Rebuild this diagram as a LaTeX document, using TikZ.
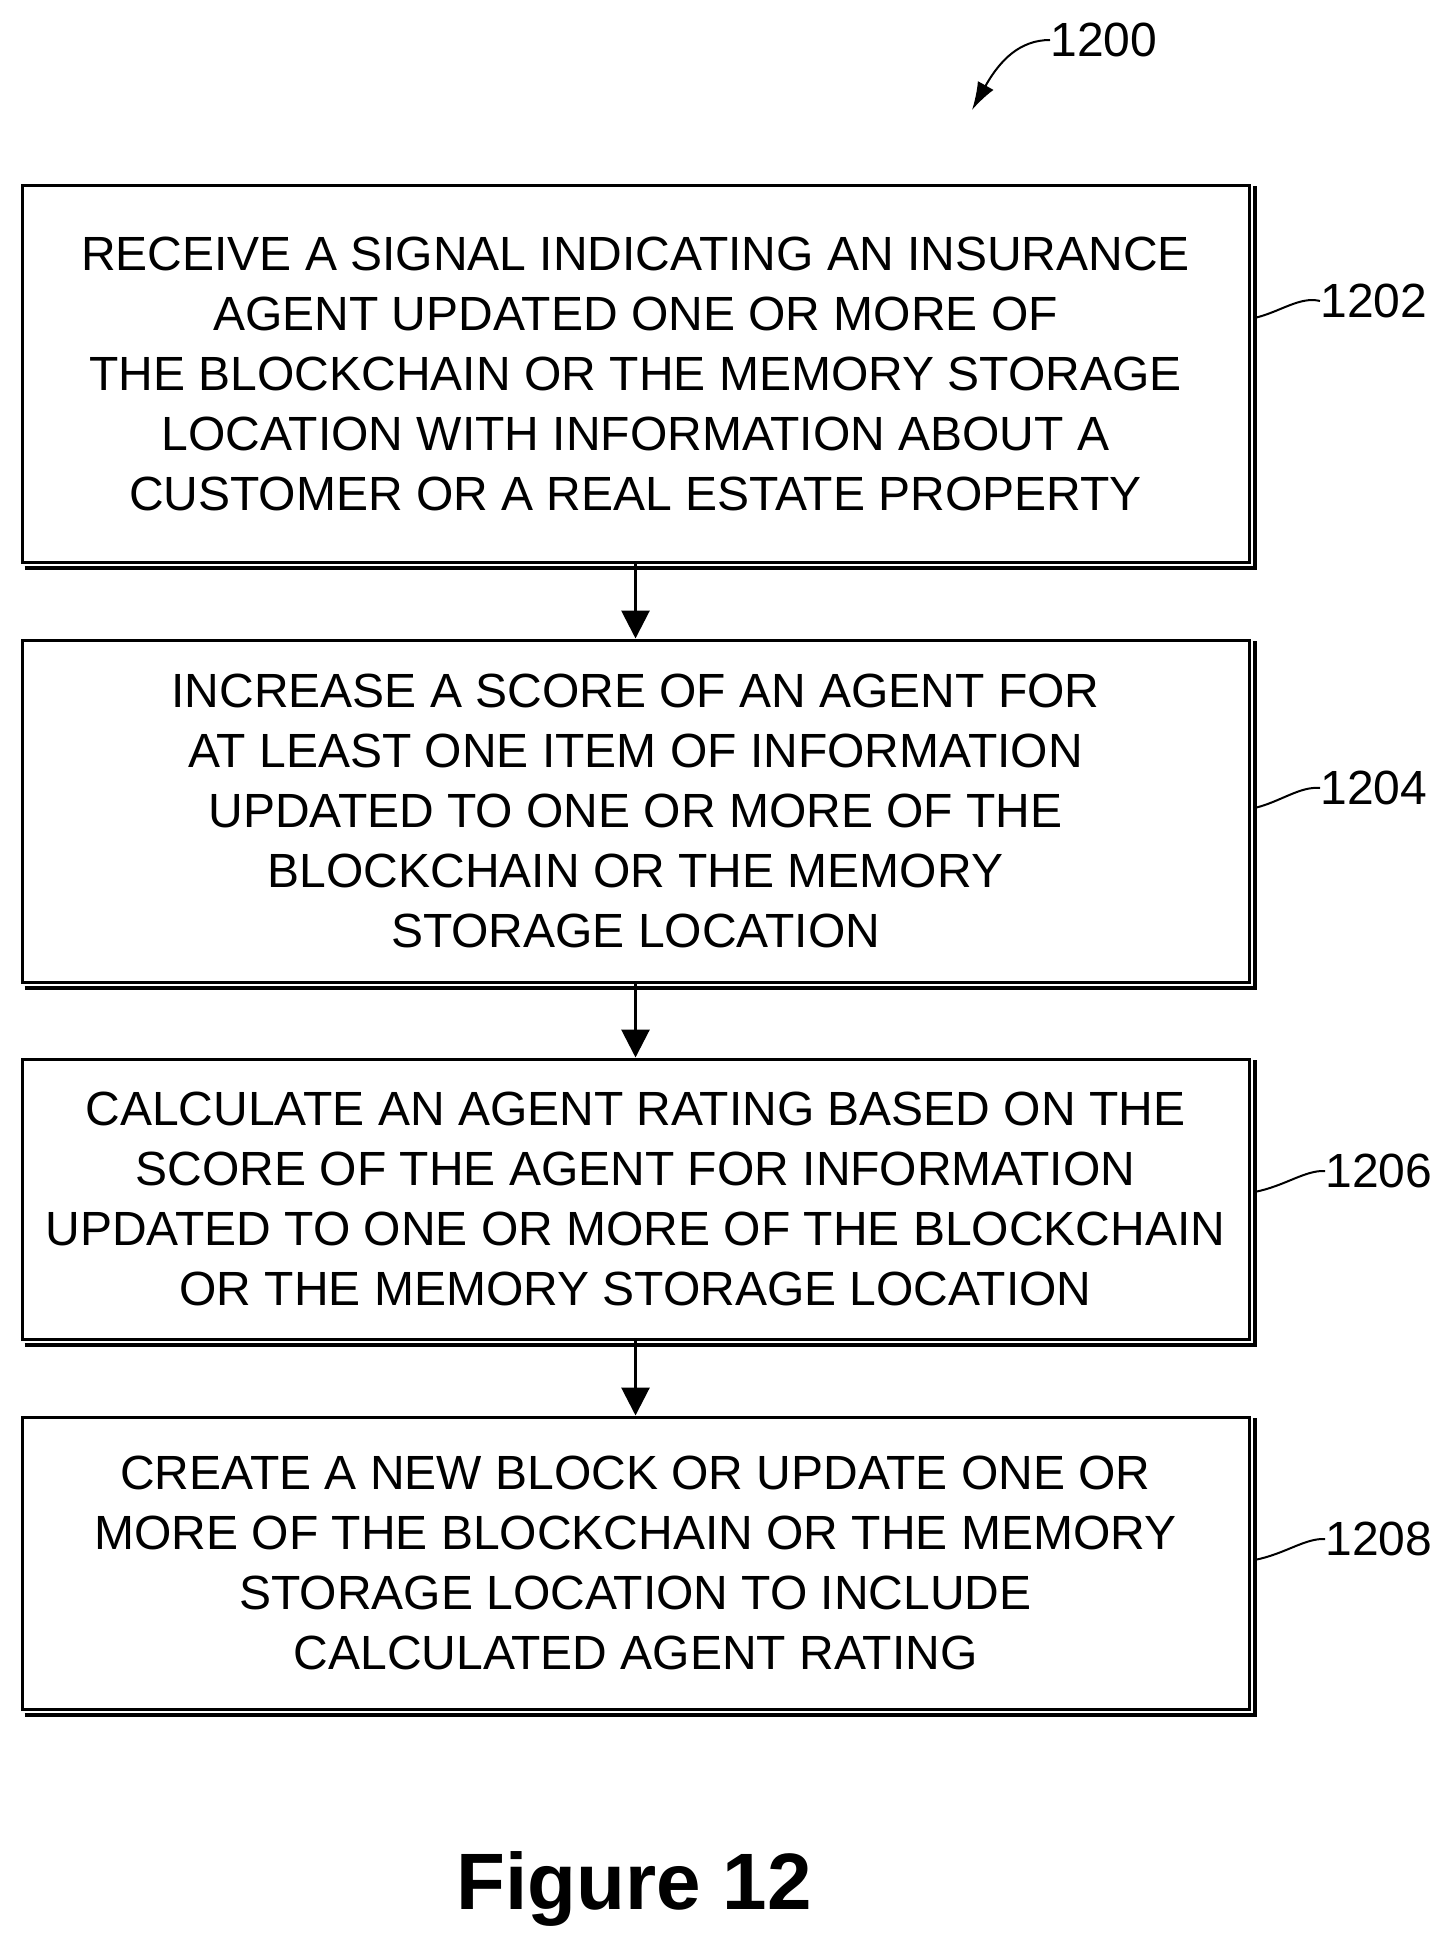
\documentclass[tikz,border=0pt]{standalone}
\usepackage{fontspec}
\setmainfont{Liberation Sans}
\usetikzlibrary{arrows.meta}
\begin{document}
\begin{tikzpicture}[x=0.5pt,y=-0.5pt,
  stepbox/.style={draw,line width=1.5pt,minimum width=613.5pt,align=center,font=\fontsize{24}{30}\selectfont,inner sep=0pt},
  conn/.style={line width=1.5pt,-{Triangle[length=14pt,width=14pt]}},
  lbl/.style={font=\fontsize{24}{28}\selectfont,anchor=west,inner sep=0pt},
  lead/.style={line width=1pt}]
\useasboundingbox (0,0) rectangle (1448,1946);
\node[stepbox,minimum height=188pt] (b1) at (635.5,374) {RECEIVE A SIGNAL INDICATING AN INSURANCE\\AGENT UPDATED ONE OR MORE OF\\THE BLOCKCHAIN OR THE MEMORY STORAGE\\LOCATION WITH INFORMATION ABOUT A\\CUSTOMER OR A REAL ESTATE PROPERTY};
\node[stepbox,minimum height=171pt] (b2) at (635.5,811) {INCREASE A SCORE OF AN AGENT FOR\\AT LEAST ONE ITEM OF INFORMATION\\UPDATED TO ONE OR MORE OF THE\\BLOCKCHAIN OR THE MEMORY\\STORAGE LOCATION};
\node[stepbox,minimum height=140pt] (b3) at (635.5,1199) {CALCULATE AN AGENT RATING BASED ON THE\\SCORE OF THE AGENT FOR INFORMATION\\UPDATED TO ONE OR MORE OF THE BLOCKCHAIN\\OR THE MEMORY STORAGE LOCATION};
\node[stepbox,minimum height=146pt] (b4) at (635.5,1563) {CREATE A NEW BLOCK OR UPDATE ONE OR\\MORE OF THE BLOCKCHAIN OR THE MEMORY\\STORAGE LOCATION TO INCLUDE\\CALCULATED AGENT RATING};
\foreach \b in {b1,b2,b3,b4}{
  \draw[line width=2pt] ([xshift=2pt,yshift=-2pt]\b.south west) -- ([xshift=2pt,yshift=-2pt]\b.south east) -- ([xshift=2pt,yshift=-1pt]\b.north east);
}
\draw[conn] (b1.south) -- (b2.north);
\draw[conn] (b2.south) -- (b3.north);
\draw[conn] (b3.south) -- (b4.north);
\node[lbl] (l1) at (1320,301) {1202};
\node[lbl] (l2) at (1320,788) {1204};
\node[lbl] (l3) at (1325,1171) {1206};
\node[lbl] (l4) at (1325,1539) {1208};
\draw[lead] ([xshift=2pt]b1.east |- 0,318) .. controls (1280,312) and (1300,296) .. (l1.west);
\draw[lead] ([xshift=2pt]b2.east |- 0,808) .. controls (1280,802) and (1300,786) .. (l2.west);
\draw[lead] ([xshift=2pt]b3.east |- 0,1192) .. controls (1285,1186) and (1305,1170) .. (l3.west);
\draw[lead] ([xshift=2pt]b4.east |- 0,1560) .. controls (1285,1554) and (1305,1538) .. (l4.west);
\node[lbl] (l0) at (1050,40) {1200};
\coordinate (t0) at (972,110);
\draw[line width=1pt,-{Latex[length=14pt,width=9pt]}] (l0.west) .. controls (1020,40) and (1000,60) .. (t0);
\node[font=\bfseries\fontsize{40}{48}\selectfont] (fig) at (634,1889) {Figure 12};
\end{tikzpicture}
\end{document}
